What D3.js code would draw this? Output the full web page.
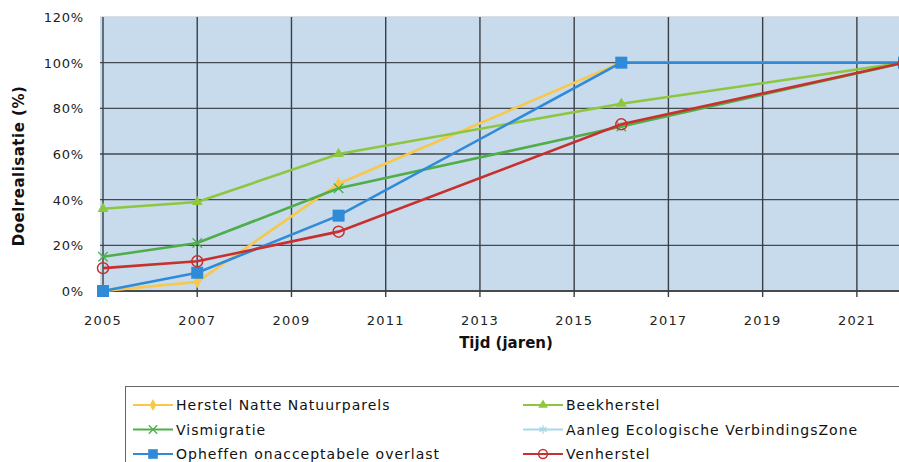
<!DOCTYPE html>
<html>
<head>
<meta charset="utf-8">
<script src="https://cdn.jsdelivr.net/npm/d3@7"></script>
<style>
  body { margin: 0; background: #fff; }
  svg { display: block; font-family: "DejaVu Sans", sans-serif; }
</style>
</head>
<body>
<svg id="chart"></svg>
<script>
const width = 899, height = 462;

const years = [2005, 2007, 2010, 2016, 2022];
const herstelNatte = [0, 4, 47, 100, 100];
const beekherstel = [36, 39, 60, 82, 100];
const vismigratie = [15, 21, 45, 72, 100];
const aanlegEVZ = [];
const opheffen = [0, 8, 33, 100, 100];
const venherstel = [10, 13, 26, 73, 100];

const xTicks = [2005, 2007, 2009, 2011, 2013, 2015, 2017, 2019, 2021];
const yTicks = [0, 20, 40, 60, 80, 100, 120];

const series = [
  {name: "Herstel Natte Natuurparels", values: herstelNatte, color: "#f7c84a", marker: "diamond"},
  {name: "Beekherstel", values: beekherstel, color: "#8dc63f", marker: "triangle"},
  {name: "Vismigratie", values: vismigratie, color: "#4fae4a", marker: "x"},
  {name: "Aanleg Ecologische VerbindingsZone", values: aanlegEVZ, color: "#a8d8e6", marker: "star"},
  {name: "Opheffen onacceptabele overlast", values: opheffen, color: "#2f8ad8", marker: "square"},
  {name: "Venherstel", values: venherstel, color: "#c8302e", marker: "circle"}
];

const x = d3.scaleLinear().domain([2005, 2022]).range([103, 904]);
const y = d3.scaleLinear().domain([0, 120]).range([291, 17]);

const svg = d3.select("#chart")
              .attr("width", width)
              .attr("height", height);

// plot background
svg.append("rect")
   .attr("x", 100).attr("y", y(120))
   .attr("width", 820).attr("height", y(0) - y(120))
   .attr("fill", "#c8dbec");

// horizontal grid
svg.append("g")
   .selectAll("line")
   .data(yTicks)
   .enter()
   .append("line")
   .attr("x1", 100).attr("x2", width)
   .attr("y1", d => y(d)).attr("y2", d => y(d))
   .attr("stroke", d => d === 120 ? "#cfd6dc" : "#444a50")
   .attr("stroke-width", d => d === 0 ? 2 : 1.4);

// vertical grid + ticks
svg.append("g")
   .selectAll("line")
   .data(xTicks)
   .enter()
   .append("line")
   .attr("x1", d => x(d)).attr("x2", d => x(d))
   .attr("y1", y(120)).attr("y2", y(0) + 6)
   .attr("stroke", "#3a3f45")
   .attr("stroke-width", 1.4);

// y labels
svg.append("g")
   .selectAll("text")
   .data(yTicks)
   .enter()
   .append("text")
   .attr("x", 84)
   .attr("y", d => y(d) + 5)
   .attr("text-anchor", "end")
   .attr("font-size", 13)
   .attr("letter-spacing", 0.8)
   .attr("fill", "#222")
   .text(d => d + "%");

// x labels
svg.append("g")
   .selectAll("text")
   .data(xTicks)
   .enter()
   .append("text")
   .attr("x", d => x(d))
   .attr("y", 325)
   .attr("text-anchor", "middle")
   .attr("font-size", 13)
   .attr("letter-spacing", 1.2)
   .attr("fill", "#222")
   .text(d => d);

svg.append("text")
   .attr("x", 506).attr("y", 348)
   .attr("text-anchor", "middle")
   .attr("font-size", 15).attr("font-weight", "bold")
   .attr("fill", "#111")
   .text("Tijd (jaren)");

svg.append("text")
   .attr("transform", "translate(24,166) rotate(-90)")
   .attr("text-anchor", "middle")
   .attr("font-size", 15).attr("font-weight", "bold")
   .attr("letter-spacing", 0.5)
   .attr("fill", "#111")
   .text("Doelrealisatie (%)");

function drawMarker(g, type, color, cx, cy, s) {
  if (type === "diamond") {
    g.append("path").attr("d", d3.symbol(d3.symbolDiamond, s * 5)())
     .attr("transform", `translate(${cx},${cy})`).attr("fill", color);
  } else if (type === "triangle") {
    g.append("path").attr("d", d3.symbol(d3.symbolTriangle, s * 5)())
     .attr("transform", `translate(${cx},${cy})`).attr("fill", color);
  } else if (type === "x") {
    g.append("path").attr("d", d3.symbol(d3.symbolX, s * 6)())
     .attr("transform", `translate(${cx},${cy})`).attr("stroke", color)
     .attr("stroke-width", 1.3).attr("fill", "none");
  } else if (type === "star") {
    g.append("path").attr("d", d3.symbol(d3.symbolAsterisk, s * 6)())
     .attr("transform", `translate(${cx},${cy})`).attr("stroke", color)
     .attr("stroke-width", 1.3).attr("fill", "none");
  } else if (type === "square") {
    g.append("rect").attr("x", cx - s * 0.6).attr("y", cy - s * 0.6)
     .attr("width", s * 1.2).attr("height", s * 1.2).attr("fill", color);
  } else if (type === "circle") {
    g.append("circle").attr("cx", cx).attr("cy", cy).attr("r", s * 0.55)
     .attr("fill", "none").attr("stroke", color).attr("stroke-width", 1.5);
  }
}

const line = d3.line()
               .x(d => x(d[0]))
               .y(d => y(d[1]));

const plot = svg.append("g");
series.forEach(s => {
  const pts = s.values.map((v, i) => [years[i], v]);
  if (!pts.length) return;
  plot.append("path")
      .datum(pts)
      .attr("d", line)
      .attr("fill", "none")
      .attr("stroke", s.color)
      .attr("stroke-width", 2.6);
  pts.forEach(p => drawMarker(plot, s.marker, s.color, x(p[0]), y(p[1]), 10));
});

// legend
const legend = svg.append("g");
legend.append("rect")
      .attr("x", 125.5).attr("y", 386.5)
      .attr("width", 820).attr("height", 120)
      .attr("fill", "#fff").attr("stroke", "#666").attr("stroke-width", 1);

series.forEach((s, i) => {
  const col = i % 2, row = Math.floor(i / 2);
  const lx = col === 0 ? 133 : 523;
  const ly = 405 + row * 24.5;
  legend.append("line")
        .attr("x1", lx).attr("x2", lx + 40)
        .attr("y1", ly).attr("y2", ly)
        .attr("stroke", s.color).attr("stroke-width", 2.2);
  drawMarker(legend, s.marker, s.color, lx + 20, ly, 8);
  legend.append("text")
        .attr("x", lx + 43).attr("y", ly + 5)
        .attr("font-size", 14)
        .attr("letter-spacing", 1)
        .attr("fill", "#111")
        .text(s.name);
});
</script>
</body>
</html>
